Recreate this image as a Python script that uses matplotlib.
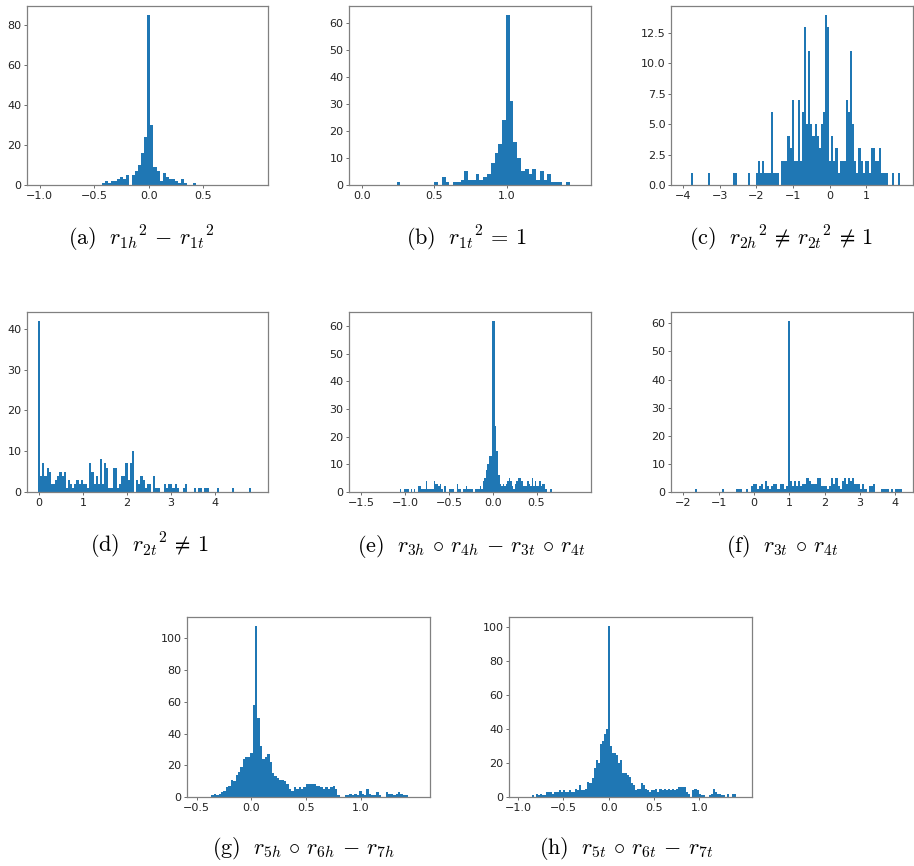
import numpy as np
import matplotlib
matplotlib.use("Agg")
import matplotlib.pyplot as plt
from matplotlib.ticker import MultipleLocator

plt.rcParams['mathtext.fontset'] = 'cm'

# histogram counts (start of first bin, bin width, counts)
a_start, a_width = -0.432, 0.028
a_counts = [1, 2, 1, 2, 2, 3, 4, 3, 5, 0, 5, 7, 10, 16, 24, 85, 30, 9, 7, 2,
            6, 4, 3, 3, 2, 1, 3, 1, 0, 0, 1]

b_start, b_width = 0.241, 0.026
b_counts = [1, 0, 0, 0, 0, 0, 0, 0, 0, 0, 1, 0, 3, 1, 0, 1, 1, 2, 5, 2,
            2, 4, 2, 3, 4, 8, 12, 15, 24, 63, 31, 16, 10, 5, 6, 4, 6, 2, 5, 2,
            4, 1, 1, 1, 0, 1]

c_start, c_width = -3.78, 0.0571
c_counts = [1, 0, 0, 0, 0, 0, 0, 0, 1, 0,
            0, 0, 0, 0, 0, 0, 0, 0, 0, 0,
            1, 1, 0, 0, 0, 0, 0, 1, 0, 0,
            0, 1, 2, 1, 2, 1, 1, 1, 6, 1,
            1, 1, 0, 2, 2, 2, 4, 3, 7, 2,
            2, 7, 2, 6, 13, 5, 11, 5, 4, 5,
            4, 3, 5, 6, 14, 13, 2, 4, 2, 3,
            1, 2, 2, 2, 7, 6, 11, 5, 2, 1,
            3, 2, 1, 2, 2, 1, 3, 3, 2, 2,
            3, 1, 1, 1, 0, 0, 1, 0, 0, 1]

d_start, d_width = -0.02, 0.0485
d_counts = [42, 4, 7, 4, 6, 5, 2, 2, 3, 4,
            5, 4, 5, 1, 3, 2, 1, 2, 3, 2,
            3, 2, 2, 1, 7, 5, 2, 4, 2, 8,
            2, 7, 6, 1, 1, 6, 6, 1, 2, 4,
            4, 7, 3, 7, 10, 0, 3, 2, 4, 3,
            1, 2, 2, 0, 4, 1, 1, 0, 0, 2,
            1, 2, 2, 1, 2, 1, 0, 0, 1, 2,
            0, 0, 0, 1, 0, 1, 1, 0, 1, 1,
            0, 0, 0, 0, 1, 0, 0, 0, 0, 0,
            0, 1, 0, 0, 0, 0, 0, 0, 0, 1]

e_start, e_width = -1.06, 0.0175
e_counts = [1, 0, 0, 1, 1, 1, 0, 1, 0, 1,
            0, 0, 2, 2, 1, 1, 1, 4, 1, 1,
            1, 1, 4, 3, 3, 2, 3, 1, 0, 2,
            0, 0, 1, 1, 1, 0, 0, 3, 1, 1,
            0, 1, 1, 2, 1, 1, 1, 1, 0, 1,
            1, 1, 2, 1, 4, 5, 8, 10, 13, 13,
            62, 62, 24, 15, 6, 3, 2, 3, 2, 3,
            4, 5, 4, 2, 1, 3, 4, 5, 5, 4,
            2, 2, 2, 4, 3, 2, 5, 2, 4, 2,
            2, 4, 2, 3, 3, 1, 0, 0, 1, 0]

f_start, f_width = -1.68, 0.0586
f_counts = [1, 0, 0, 0, 0, 0, 0, 0, 0, 0,
            0, 0, 0, 1, 0, 0, 0, 0, 0, 0,
            1, 1, 1, 0, 0, 1, 0, 2, 3, 3,
            1, 2, 3, 1, 4, 2, 1, 2, 3, 3,
            1, 3, 3, 1, 2, 61, 4, 2, 4, 2,
            4, 2, 3, 3, 5, 4, 3, 3, 3, 5,
            5, 2, 2, 2, 1, 2, 5, 3, 5, 2,
            1, 4, 5, 3, 5, 4, 5, 3, 3, 3,
            1, 3, 1, 0, 2, 2, 3, 0, 0, 0,
            1, 1, 1, 1, 0, 1, 0, 1, 1, 1]

g_start, g_width = -0.367, 0.0222
g_counts = [1, 2, 1, 2, 3, 4, 6, 7, 11, 10,
            14, 16, 19, 24, 25, 25, 28, 58, 108, 50,
            32, 24, 25, 27, 22, 15, 13, 12, 11, 11,
            10, 8, 5, 4, 6, 5, 6, 5, 6, 8,
            8, 8, 8, 7, 7, 6, 5, 6, 5, 6,
            7, 5, 1, 0, 0, 1, 1, 2, 1, 2,
            1, 4, 2, 1, 5, 2, 1, 1, 3, 1,
            0, 0, 3, 2, 2, 1, 2, 3, 2, 1,
            1]

h_start, h_width = -0.8706, 0.0227
h_counts = [0, 1, 0, 2, 1, 2, 1, 1, 3, 3,
            3, 2, 3, 3, 4, 3, 4, 3, 3, 4,
            3, 3, 5, 4, 7, 4, 4, 5, 9, 8,
            11, 17, 22, 20, 31, 33, 37, 40, 101, 30,
            26, 26, 25, 20, 22, 14, 14, 13, 12, 8,
            7, 4, 5, 5, 8, 7, 5, 4, 3, 4,
            4, 5, 3, 5, 4, 5, 4, 5, 4, 5,
            4, 5, 6, 6, 6, 6, 3, 2, 0, 4,
            5, 4, 2, 1, 1, 0, 0, 1, 2, 5,
            3, 2, 2, 1, 1, 0, 2, 0, 2, 2]

x_limits = [(-1.116, 1.094), (-0.087, 1.582), (-4.336, 2.28), (-0.272, 5.21),
            (-1.641, 1.122), (-2.35, 4.5), (-0.59, 1.636), (-1.10, 1.58)]
x_ticks = [[-1.0, -0.5, 0.0, 0.5], [0.0, 0.5, 1.0], [-4, -3, -2, -1, 0, 1],
           [0, 1, 2, 3, 4], [-1.5, -1.0, -0.5, 0.0, 0.5], [-2, -1, 0, 1, 2, 3, 4],
           [-0.5, 0.0, 0.5, 1.0], [-1.0, -0.5, 0.0, 0.5, 1.0]]
y_steps = [20, 10, 2.5, 10, 10, 10, 20, 20]

captions = [r'$\mathrm{(a)}\ \ {r_{1h}}^2 \,-\, {r_{1t}}^2$',
            r'$\mathrm{(b)}\ \ {r_{1t}}^2 \,=\, 1$',
            r'$\mathrm{(c)}\ \ {r_{2h}}^2 \,\neq\, {r_{2t}}^2 \,\neq\, 1$',
            r'$\mathrm{(d)}\ \ {r_{2t}}^2 \,\neq\, 1$',
            r'$\mathrm{(e)}\ \ r_{3h} \,\circ\, r_{4h} \,-\, r_{3t} \,\circ\, r_{4t}$',
            r'$\mathrm{(f)}\ \ r_{3t} \,\circ\, r_{4t}$',
            r'$\mathrm{(g)}\ \ r_{5h} \,\circ\, r_{6h} \,-\, r_{7h}$',
            r'$\mathrm{(h)}\ \ r_{5t} \,\circ\, r_{6t} \,-\, r_{7t}$']

hists = [(a_start, a_width, a_counts), (b_start, b_width, b_counts),
         (c_start, c_width, c_counts), (d_start, d_width, d_counts),
         (e_start, e_width, e_counts), (f_start, f_width, f_counts),
         (g_start, g_width, g_counts), (h_start, h_width, h_counts)]

W, H = 914, 866
# axes boxes in pixels: left, top, right, bottom
boxes = [(27, 6, 268, 185), (349, 6, 591, 185), (671, 6, 913, 185),
         (27, 312, 268, 492), (349, 312, 591, 492), (671, 312, 913, 492),
         (187, 617, 430, 797), (509, 617, 752, 797)]
# caption centres in pixels
cap_pos = [(141, 239), (466, 239), (781, 239),
           (149, 546), (471, 546), (782, 546),
           (304, 848), (626, 848)]

fig = plt.figure(figsize=(W / 100, H / 100), dpi=100)

for k, (start, width, counts) in enumerate(hists):
    l, t, r, b = boxes[k]
    ax = fig.add_axes([l / W, 1 - b / H, (r - l) / W, (b - t) / H])
    counts = np.array(counts, dtype=float)
    edges = start + width * np.arange(len(counts) + 1)
    ax.hist(edges[:-1] + width / 2, bins=edges, weights=counts, color='#1f77b4')
    ax.set_xlim(*x_limits[k])
    ax.set_xticks(x_ticks[k])
    ax.yaxis.set_major_locator(MultipleLocator(y_steps[k]))
    ax.tick_params(labelsize=8, length=2.5, width=0.6, pad=1.5,
                   colors='#555555', labelcolor='#222222')
    for s in ax.spines.values():
        s.set_color('#808080')
        s.set_linewidth(0.9)
    cx, cy = cap_pos[k]
    fig.text(cx / W, 1 - cy / H, captions[k], ha='center', va='center', fontsize=16)

fig.savefig("out.png", dpi=100)
